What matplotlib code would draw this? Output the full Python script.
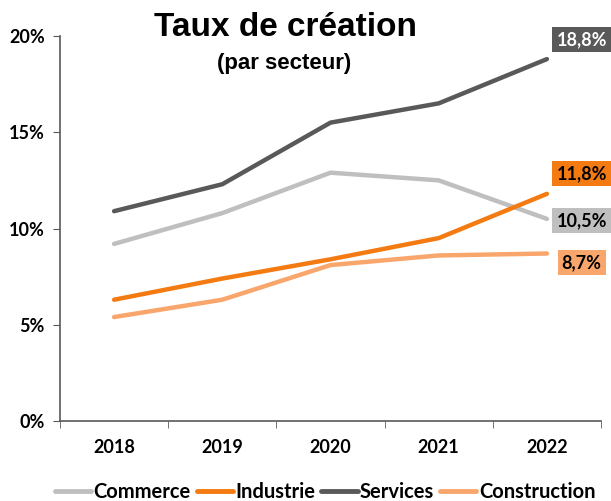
import matplotlib.pyplot as plt
from matplotlib.ticker import FuncFormatter

years = ["2018", "2019", "2020", "2021", "2022"]
commerce = [9.2, 10.8, 12.9, 12.5, 10.5]
industrie = [6.3, 7.4, 8.4, 9.5, 11.8]
services = [10.9, 12.3, 15.5, 16.5, 18.8]
construction = [5.4, 6.3, 8.1, 8.6, 8.7]

series = [
    ("Commerce", commerce, "#BFBFBF", "black", -1),
    ("Industrie", industrie, "#F47B12", "black", 14.5),
    ("Services", services, "#595959", "white", 14),
    ("Construction", construction, "#F9A66C", "black", -6.5),
]

lab_font = "Lato"

fig = plt.figure(figsize=(6.11, 5.01), dpi=100)
ax = fig.add_axes([60 / 611, 80 / 501, 541 / 611, 385 / 501])

x = list(range(len(years)))
for name, vals, col, tcol, dy in series:
    ax.plot(x, vals, color=col, lw=3.2, label=name, solid_capstyle="round")
    last = vals[-1]
    ax.annotate(f"{last:.1f}%".replace(".", ","), xy=(x[-1], last),
                xytext=(25, dy), textcoords="offset points",
                ha="center", va="center", fontsize=13, fontweight="bold",
                family=lab_font, color=tcol,
                bbox=dict(boxstyle="square,pad=0.22", fc=col, ec="none"),
                annotation_clip=False)

ax.set_xlim(-0.5, len(years) - 0.5)
ax.set_ylim(0, 20)
ax.set_yticks([0, 5, 10, 15, 20])
ax.yaxis.set_major_formatter(FuncFormatter(lambda v, p: f"{v:.0f}%"))
ax.set_xticks(x)
ax.set_xticklabels(years)
ax.set_xticks([i - 0.5 for i in range(len(years) + 1)], minor=True)
ax.tick_params(axis="x", which="major", length=0, pad=13)
ax.tick_params(axis="x", which="minor", length=5, color="#595959")
ax.tick_params(axis="y", length=5, color="#595959", pad=6)
for lbl in ax.get_xticklabels() + ax.get_yticklabels():
    lbl.set_fontweight("bold")
    lbl.set_fontsize(13)
    lbl.set_family(lab_font)

for s in ["top", "right"]:
    ax.spines[s].set_visible(False)
for s in ["left", "bottom"]:
    ax.spines[s].set_color("#595959")
    ax.spines[s].set_linewidth(1.2)

fig.text(285 / 611, 1 - 28 / 501, "Taux de création", ha="center", va="center",
         fontsize=24, fontweight="bold", family="Liberation Sans")
fig.text(284 / 611, 1 - 63 / 501, "(par secteur)", ha="center", va="center",
         fontsize=16, fontweight="bold", family="Liberation Sans")

leg = fig.legend(loc="center", bbox_to_anchor=(325 / 611, 1 - 492 / 501), ncol=4,
                 frameon=False, handlelength=1.8, handletextpad=0.12,
                 columnspacing=0.3, borderpad=0.1,
                 prop=dict(family=lab_font, weight="bold", size=14.5))
for h in leg.get_lines():
    h.set_linewidth(3.5)

fig.savefig("out.png", dpi=100)
